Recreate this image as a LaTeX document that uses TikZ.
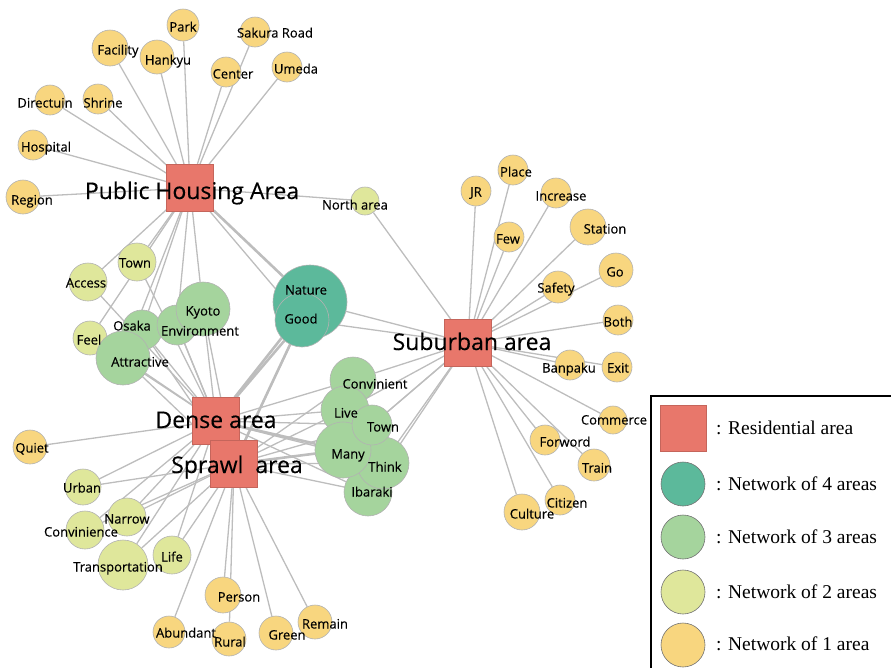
\documentclass[tikz,border=0pt]{standalone}
\usepackage{fontspec}
\setmainfont{Liberation Serif}
\newfontfamily\labfont[FakeBold=0.35]{Open Sans}
\definecolor{resid}{HTML}{E8776B}
\definecolor{net4}{HTML}{5CB99B}
\definecolor{net3}{HTML}{A5D49D}
\definecolor{net2}{HTML}{DFE79B}
\definecolor{net1}{HTML}{F8D67F}
\definecolor{edgecol}{HTML}{BDBDBD}
\pgfdeclarelayer{edgelayer}
\pgfsetlayers{edgelayer,main}
\tikzset{
  kw/.style={circle, draw=black!30, line width=0.6pt, inner sep=0pt},
  area/.style={rectangle, fill=resid, draw=resid!85!black, line width=0.4pt, inner sep=0pt, minimum size=47pt},
  lab/.style={font=\labfont\fontsize{13}{14}\selectfont, inner sep=0pt, anchor=base},
  biglab/.style={font=\labfont\fontsize{23}{25}\selectfont, inner sep=0pt, anchor=base},
  link/.style={draw=edgecol, line width=1.3pt},
  heavy/.style={draw=edgecol, line width=2.6pt},
  legtext/.style={font=\fontsize{19.5}{22}\selectfont, anchor=west, inner sep=0pt}
}
\begin{document}
\begin{tikzpicture}[x=1pt,y=-1pt]
\useasboundingbox (0,0) rectangle (891,667);
\clip (0,0) rectangle (891,667);
% keyword circles
\foreach \n/\x/\y/\r/\c in {
 park/183/25/16/net1, facility/110/48/18/net1, hankyu/157/57/17/net1,
 sakura/255/32/15/net1, center/226/72/15/net1, umeda/287/67/15/net1,
 directuin/50/100/15/net1, shrine/98/99/15/net1, hospital/33/145/15/net1,
 region/23/197/17/net1, north/365/201/14/net2,
 jr/476/191/15/net1, place/513/170/15/net1, increase/556/193/15/net1,
 few/509/237/15/net1, station/588/227/18/net1, go/616/270/17/net1,
 safety/558/287/16/net1, both/618/320/15/net1, banpaku/570/365/15/net1,
 exit/617/367/15/net1, commerce/613/420/14/net1, forword/545/440/15/net1,
 train/594/465/16/net1, citizen/560/500/15/net1, culture/522/512/18/net1,
 towna/137/262/19/net2, access/88/282/19/net2, feel/90/338/17/net2,
 osaka/142/330/20/net3, environment/177/325/20/net3, kyoto/203/309/27/net3,
 attractive/123/358/27/net3,
 nature/310/302/37/net4, good/302/320/27/net4,
 quiet/30/447/17/net1,
 ibaraki/368/492/24/net3, think/383/463/26/net3, convinient/353/380/23/net3,
 live/345/410/24/net3, many/343/450/28/net3, townb/372/425/20/net3,
 urban/83/487/18/net2, narrow/127/517/19/net2, convinience/85/530/19/net2,
 transportation/123/565/25/net2, life/172/555/19/net2,
 person/223/595/18/net1, abundant/169/632/16/net1, rural/229/639/17/net1,
 green/276/633/17/net1, remain/315/622/17/net1}
 \node[kw, fill=\c, minimum size=2*\r pt] (\n) at (\x,\y) {};
% residential areas
\node[area] (ph) at (190,188) {};
\node[area] (sub) at (468,343) {};
\node[area] (dense) at (216,421) {};
\node[area] (sprawl) at (234,464) {};
% edges
\begin{pgfonlayer}{edgelayer}
\foreach \b in {park,facility,hankyu,sakura,center,umeda,directuin,shrine,hospital,region,north,towna,access,feel,osaka,attractive,environment,kyoto,good}
  \draw[link] (ph) -- (\b);
\draw[heavy] (ph) -- (nature);
\foreach \b in {jr,place,increase,few,station,go,safety,both,banpaku,exit,commerce,forword,train,citizen,culture,north,nature,good,convinient,live,townb,many,think,ibaraki}
  \draw[link] (sub) -- (\b);
\foreach \b in {quiet,towna,access,feel,osaka,attractive,environment,kyoto,convinient,live,townb,think,ibaraki,urban,narrow,convinience,transportation,life}
  \draw[link] (dense) -- (\b);
\foreach \b in {nature,good,many}
  \draw[heavy] (dense) -- (\b);
\foreach \b in {person,abundant,rural,green,remain,osaka,attractive,environment,kyoto,good,convinient,live,townb,think,ibaraki,urban,narrow,convinience,transportation,life}
  \draw[link] (sprawl) -- (\b);
\foreach \b in {nature,many}
  \draw[heavy] (sprawl) -- (\b);
\end{pgfonlayer}
% labels
\foreach \n/\x/\y/\t in {
 park/183/27/Park, facility/118/50/Facility, hankyu/168/60/Hankyu,
 sakura/275/33/Sakura Road, center/233/74/Center, umeda/296/69/Umeda,
 directuin/45/103/Directuin, shrine/103/103/Shrine, hospital/46/147/Hospital,
 region/32/200/Region, north/355/205/North area,
 jr/476/192/JR, place/516/172/Place, increase/561/196/Increase,
 few/508/239/Few, station/605/229/Station, go/615/272/Go,
 safety/556/288/Safety, both/618/322/Both, banpaku/569/368/Banpaku,
 exit/618/368/Exit, commerce/614/420/Commerce, forword/565/442/Forword,
 train/597/468/Train, citizen/567/503/Citizen, culture/532/514/Culture,
 towna/135/263/Town, access/86/283/Access, feel/89/340/Feel,
 osaka/132/326/Osaka, attractive/140/362/Attractive,
 environment/200/331/Environment, kyoto/203/311/Kyoto,
 nature/306/290/Nature, good/301/319/Good, quiet/32/448/Quiet,
 convinient/375/384/Convinient, live/346/413/Live, townb/383/427/Town,
 many/348/454/Many, think/385/467/Think, ibaraki/372/492/Ibaraki,
 urban/82/488/Urban, narrow/127/519/Narrow, convinience/81/532/Convinience,
 transportation/118/567/Transportation, life/172/557/Life,
 person/239/597/Person, abundant/186/633/Abundant, rural/230/642/Rural,
 green/287/635/Green, remain/325/624/Remain}
 \node[lab] (t-\n) at (\x,{\y+4.5}) {\t};
\node[biglab] (t-ph) at (192,{191+8}) {Public Housing Area};
\node[biglab] (t-sub) at (472,{342+8}) {Suburban area};
\node[biglab] (t-dense) at (216,{420+8}) {Dense area};
\node[biglab] (t-sprawl) at (237,{465+8}) {Sprawl~~area};
% legend
\draw[line width=2pt] (651,396) rectangle (910,690);
\node[area, minimum size=46pt, draw=resid!85!black] (lg-res) at (683,428) {};
\node[kw, fill=net4, draw=black!55, minimum size=44pt] (lg-4) at (683,484) {};
\node[kw, fill=net3, draw=black!55, minimum size=44pt] (lg-3) at (683,537) {};
\node[kw, fill=net2, draw=black!55, minimum size=44pt] (lg-2) at (683,592) {};
\node[kw, fill=net1, draw=black!55, minimum size=44pt] (lg-1) at (683,645) {};
\node[legtext] (lt-res) at (716,428) {: Residential area};
\node[legtext] (lt-4) at (716,484) {: Network of 4 areas};
\node[legtext] (lt-3) at (716,537) {: Network of 3 areas};
\node[legtext] (lt-2) at (716,592) {: Network of 2 areas};
\node[legtext] (lt-1) at (716,644) {: Network of 1 area};
\end{tikzpicture}
\end{document}
